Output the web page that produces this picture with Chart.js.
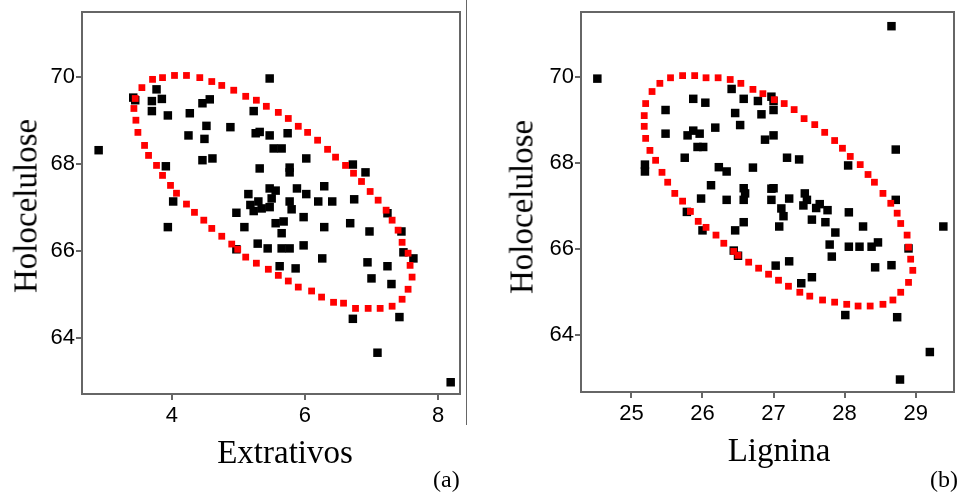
<!DOCTYPE html>
<html>
<head>
<meta charset="utf-8">
<script src="https://cdn.jsdelivr.net/npm/chart.js@4.4.1/dist/chart.umd.min.js"></script>
<style>
  body { margin: 0; background: #fff; }
  #page { position: relative; width: 960px; height: 493px; overflow: hidden; }
  canvas { position: absolute; top: 0; }
  #chartA { left: 0; }
  #chartB { left: 470px; }
  .axis-title { position: absolute; font-family: 'Liberation Serif', 'Times New Roman', serif; font-size: 33px; line-height: 1; white-space: nowrap; color: #000; }
  .ytitle { transform: translate(-50%, -50%) rotate(-90deg); }
  .xtitle { transform: translateX(-50%); }
  .panel-tag { position: absolute; font-family: 'Liberation Serif', 'Times New Roman', serif; font-size: 24px; line-height: 1; color: #000; }
  #divider { position: absolute; left: 466px; top: 0; width: 1px; height: 425px; background: #666; }
</style>
</head>
<body>
<div id="page">
  <canvas id="chartA" width="470" height="493"></canvas>
  <canvas id="chartB" width="490" height="493"></canvas>
  <div id="divider"></div>
  <div class="axis-title ytitle" style="left:26px; top:206px;">Holocelulose</div>
  <div class="axis-title xtitle" style="left:285px; top:436px;">Extrativos</div>
  <div class="panel-tag" style="left:433px; top:467px;">(a)</div>
  <div class="axis-title ytitle" style="left:522px; top:207px;">Holocelulose</div>
  <div class="axis-title xtitle" style="left:779px; top:434px;">Lignina</div>
  <div class="panel-tag" style="left:930px; top:467px;">(b)</div>
</div>
<script>
// (a) Extrativos x Holocelulose
const extrativos = [2.90, 3.42, 3.45, 3.77, 3.70, 3.85, 3.70, 3.94, 4.27, 4.46,
  4.57, 5.47, 5.23, 4.52, 4.88, 4.25, 4.49, 5.26, 5.32, 5.47,
  5.74, 5.53, 5.65, 4.46, 4.61, 3.91, 5.32, 5.77, 5.77, 6.02,
  6.72, 6.91, 4.02, 3.94, 5.15, 5.47, 5.56, 5.50, 5.18, 5.30,
  5.23, 5.35, 5.47, 5.77, 5.80, 5.88, 6.02, 6.29, 6.20, 6.41,
  6.74, 4.97, 5.09, 5.56, 5.68, 5.65, 5.98, 6.29, 6.68, 6.97,
  7.24, 7.45, 5.29, 5.44, 4.97, 5.65, 5.77, 5.98, 7.48, 7.63,
  6.26, 5.62, 5.86, 6.94, 7.24, 7.00, 7.30, 6.72, 7.42, 7.09, 8.19];
const holoA = [68.31, 69.52, 69.46, 69.71, 69.44, 69.49, 69.21, 69.11, 69.16, 69.39,
  69.48, 69.96, 69.21, 68.87, 68.84, 68.65, 68.57, 68.70, 68.73, 68.65,
  68.70, 68.35, 68.35, 68.08, 68.12, 67.94, 67.89, 67.91, 67.80, 68.12,
  67.98, 67.80, 67.13, 66.54, 67.30, 67.43, 67.38, 67.20, 67.05, 67.13,
  66.91, 66.97, 67.00, 67.13, 66.95, 67.43, 67.30, 67.48, 67.13, 67.13,
  67.18, 66.87, 66.54, 66.63, 66.67, 66.40, 66.77, 66.54, 66.63, 66.44,
  66.86, 66.44, 66.16, 66.05, 66.03, 66.05, 66.05, 66.12, 65.96, 65.82,
  65.82, 65.64, 65.59, 65.73, 65.64, 65.36, 65.23, 64.43, 64.47, 63.65, 62.97];
// confidence ellipse, red dots
const ellipseAx = [3.43, 3.45, 3.55, 3.71, 3.86, 4.04, 4.22, 4.42, 4.60, 4.75,
  4.93, 5.11, 5.27, 5.42, 5.60, 5.75, 5.90, 6.04, 6.19, 6.34,
  6.46, 6.61, 6.73, 6.85, 6.98, 7.10, 7.22, 7.31, 7.40, 7.46,
  7.55, 7.58, 7.61, 7.55, 7.46, 7.31, 7.13, 6.95, 6.76, 6.58,
  6.43, 6.25, 6.10, 5.90, 5.75, 5.60, 5.45, 5.27, 5.11, 4.99,
  4.90, 4.75, 4.60, 4.48, 4.34, 4.22, 4.07, 3.98, 3.86, 3.77,
  3.65, 3.59, 3.49, 3.46];
const ellipseAy = [69.27, 69.50, 69.75, 69.94, 69.98, 70.03, 70.03, 69.98, 69.89, 69.80,
  69.69, 69.55, 69.46, 69.32, 69.18, 69.04, 68.86, 68.72, 68.54, 68.33,
  68.15, 67.96, 67.78, 67.59, 67.36, 67.16, 66.93, 66.70, 66.47, 66.19,
  65.94, 65.66, 65.39, 65.11, 64.88, 64.72, 64.67, 64.67, 64.67, 64.79,
  64.81, 64.93, 65.07, 65.16, 65.30, 65.43, 65.57, 65.71, 65.85, 66.03,
  66.15, 66.33, 66.51, 66.70, 66.88, 67.07, 67.32, 67.50, 67.73, 67.96,
  68.19, 68.42, 68.72, 69.00];

// (b) Lignina x Holocelulose
const lignina = [24.52, 28.66, 26.41, 25.87, 26.04, 26.58, 26.78, 26.97, 27.00, 25.48,
  26.46, 26.83, 27.00, 25.48, 25.79, 25.87, 25.96, 26.18, 26.53, 27.00,
  26.88, 25.93, 26.01, 28.72, 25.19, 25.19, 25.75, 26.23, 26.34, 26.71,
  27.19, 27.36, 28.05, 26.12, 25.98, 26.34, 26.58, 26.60, 26.58, 26.97,
  27.00, 26.97, 27.22, 27.11, 27.14, 27.08, 27.44, 27.47, 27.42, 27.60,
  27.65, 27.76, 27.54, 27.73, 27.87, 28.06, 28.26, 28.72, 25.78, 26.00,
  26.46, 26.58, 26.44, 26.50, 27.79, 28.06, 28.21, 28.38, 28.47, 28.90,
  27.82, 27.03, 27.22, 28.43, 28.66, 27.54, 27.39, 28.01, 28.74, 29.20,
  28.78, 29.39];
const holoB = [69.96, 71.18, 69.72, 69.49, 69.40, 69.49, 69.44, 69.54, 69.44, 69.23,
  69.16, 69.13, 69.23, 68.68, 68.64, 68.75, 68.68, 68.82, 68.88, 68.64,
  68.54, 68.37, 68.37, 68.31, 67.96, 67.80, 68.12, 67.90, 67.80, 67.89,
  68.12, 68.08, 67.94, 67.48, 67.17, 67.14, 67.41, 67.29, 67.14, 67.40,
  67.41, 67.14, 67.17, 66.94, 66.76, 66.52, 67.29, 67.14, 67.01, 66.95,
  67.04, 66.90, 66.68, 66.62, 66.38, 66.85, 66.52, 67.14, 66.86, 66.43,
  66.43, 66.62, 65.96, 65.84, 66.10, 66.05, 66.05, 66.05, 66.15, 66.01,
  65.82, 65.61, 65.71, 65.57, 65.62, 65.34, 65.20, 64.46, 64.41, 63.60,
  62.96, 66.52];
const ellipseBx = [25.18, 25.20, 25.29, 25.40, 25.55, 25.72, 25.89, 26.05, 26.22, 26.39,
  26.54, 26.71, 26.85, 27.01, 27.15, 27.29, 27.43, 27.58, 27.72, 27.86,
  27.97, 28.08, 28.22, 28.33, 28.42, 28.54, 28.65, 28.74, 28.79, 28.88,
  28.90, 28.93, 28.96, 28.90, 28.79, 28.68, 28.54, 28.36, 28.19, 28.03,
  27.86, 27.69, 27.51, 27.37, 27.21, 27.07, 26.93, 26.79, 26.65, 26.50,
  26.44, 26.30, 26.19, 26.05, 25.94, 25.83, 25.72, 25.61, 25.51, 25.43,
  25.34, 25.26, 25.20, 25.18];
const ellipseBy = [69.10, 69.38, 69.66, 69.85, 69.98, 70.03, 70.03, 69.98, 69.98, 69.94,
  69.85, 69.71, 69.61, 69.47, 69.38, 69.24, 69.03, 68.89, 68.71, 68.52,
  68.34, 68.15, 67.96, 67.73, 67.55, 67.29, 67.06, 66.83, 66.59, 66.32,
  66.04, 65.76, 65.50, 65.22, 64.99, 64.81, 64.71, 64.67, 64.67, 64.71,
  64.76, 64.81, 64.90, 64.99, 65.13, 65.27, 65.41, 65.55, 65.69, 65.85,
  65.94, 66.13, 66.32, 66.50, 66.64, 66.87, 67.11, 67.29, 67.55, 67.78,
  68.06, 68.29, 68.57, 68.85];

const ticksExtrativos = [4, 6, 8];
const ticksLignina = [25, 26, 27, 28, 29];
const ticksHolo = [64, 66, 68, 70];

const axisColor = '#666';

function toPoints(xs, ys) {
  return xs.map((x, i) => ({ x: x, y: ys[i] }));
}

function axis(range, ticks, size, horizontal) {
  return {
    type: 'linear',
    min: range[0],
    max: range[1],
    afterBuildTicks: s => { s.ticks = ticks.map(v => ({ value: v })); },
    afterFit: s => {
      if (horizontal) s.height = size; else s.width = size;
      s.paddingTop = s.paddingBottom = s.paddingLeft = s.paddingRight = 0;
    },
    grid: { drawOnChartArea: false, drawTicks: true, tickLength: 6, color: axisColor, lineWidth: 2 },
    border: { color: axisColor, width: 2 },
    ticks: {
      color: '#000',
      font: { family: "'Liberation Sans', Arial, sans-serif", size: 22 },
      padding: horizontal ? 3 : 1,
      maxRotation: 0,
      autoSkip: false
    }
  };
}

// box around the plot area
const framePlugin = {
  id: 'frame',
  beforeDatasetsDraw(chart) {
    const { ctx, chartArea: a } = chart;
    ctx.save();
    ctx.strokeStyle = axisColor;
    ctx.lineWidth = 2;
    ctx.strokeRect(a.left, a.top, a.right - a.left, a.bottom - a.top);
    ctx.restore();
  }
};

function makePanel(id, xs, ys, ex, ey, xTicks, xRange, yRange, yWidth, xHeight, padRight) {
  return new Chart(document.getElementById(id), {
    type: 'scatter',
    data: {
      datasets: [
        {
          label: 'Elipse',
          data: toPoints(ex, ey),
          pointStyle: 'rect',
          pointRadius: 4.8,
          borderWidth: 0,
          backgroundColor: '#ff0000'
        },
        {
          label: 'Amostras',
          data: toPoints(xs, ys),
          pointStyle: 'rect',
          pointRadius: 6,
          borderWidth: 0,
          backgroundColor: '#000'
        }
      ]
    },
    options: {
      responsive: false,
      animation: false,
      layout: { padding: { top: 12, right: padRight, left: 0, bottom: 0 } },
      plugins: { legend: { display: false }, tooltip: { enabled: false } },
      scales: {
        x: axis(xRange, xTicks, xHeight, true),
        y: axis(yRange, ticksHolo, yWidth, false)
      }
    },
    plugins: [framePlugin]
  });
}

makePanel('chartA', extrativos, holoA, ellipseAx, ellipseAy, ticksExtrativos,
  [2.65, 8.33], [62.70, 71.49], 82, 99, 10);
makePanel('chartB', lignina, holoB, ellipseBx, ellipseBy, ticksLignina,
  [24.29, 29.54], [62.67, 71.51], 111, 101, 2);
</script>
</body>
</html>
